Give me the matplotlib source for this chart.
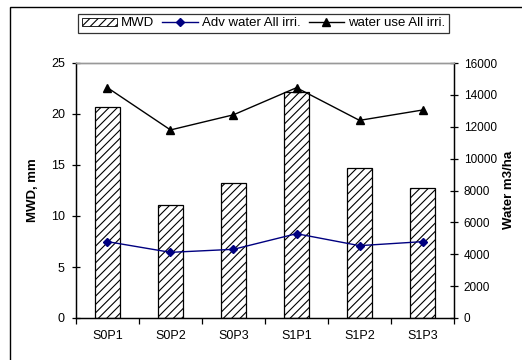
import matplotlib
matplotlib.use('Agg')
import matplotlib.pyplot as plt
import numpy as np
from matplotlib.patches import Patch, Rectangle
from matplotlib.lines import Line2D

plt.rcParams['font.family'] = ['Liberation Sans', 'DejaVu Sans']
plt.rcParams['hatch.linewidth'] = 0.8
plt.rcParams['hatch.color'] = '#444444'

# data
treatments = ['S0P1', 'S0P2', 'S0P3', 'S1P1', 'S1P2', 'S1P3']
mwd = [20.7, 11.1, 13.2, 22.2, 14.7, 12.7]
adv_water = [4790, 4120, 4310, 5290, 4540, 4790]
water_use = [14450, 11800, 12750, 14450, 12400, 13050]

fig = plt.figure(figsize=(5.22, 3.6), dpi=100)
ax = fig.add_axes([76 / 522, 1 - 318 / 360, (454 - 76) / 522, (318 - 63) / 360])
ax2 = ax.twinx()

x = np.arange(len(treatments))
ax.bar(x, mwd, width=0.4, color='white', edgecolor='black', hatch='////', linewidth=0.9, zorder=2)
ax2.plot(x, adv_water, color='#000080', marker='D', markersize=4, linewidth=1.0)
ax2.plot(x, water_use, color='black', marker='^', markersize=6, linewidth=1.0)

ax.set_xlim(-0.5, len(treatments) - 0.5)
ax.set_ylim(0, 25)
ax.set_yticks(range(0, 26, 5))
ax2.set_ylim(0, 16000)
ax2.set_yticks(range(0, 16001, 2000))

ax.set_xticks(x)
ax.set_xticklabels(treatments)
ax.set_xticks(np.arange(-0.5, len(treatments), 1.0), minor=True)
ax.tick_params(axis='x', which='major', length=0, pad=8.5, labelsize=9)
ax.tick_params(axis='x', which='minor', length=4, direction='out', width=0.9)
ax.tick_params(axis='y', length=6, direction='inout', pad=5, labelsize=9, width=0.9)
ax2.tick_params(axis='y', length=6, direction='inout', pad=4, labelsize=8.5, width=0.9)

for a in (ax, ax2):
    a.spines['top'].set_color('#999999')
    a.spines['top'].set_linewidth(1.0)
    for s in ('left', 'right', 'bottom'):
        a.spines[s].set_linewidth(0.9)

fig.text(33 / 522, 1 - 190 / 360, 'MWD, mm', rotation=90, ha='center', va='center',
         fontsize=9.5, fontweight='bold')
fig.text(509 / 522, 1 - 190 / 360, 'Water m3/ha', rotation=90, ha='center', va='center',
         fontsize=9.5, fontweight='bold')

handles = [
    Patch(facecolor='white', edgecolor='black', hatch='////', linewidth=0.6),
    Line2D([], [], color='#000080', marker='D', markersize=4, linewidth=1.0),
    Line2D([], [], color='black', marker='^', markersize=6, linewidth=1.0),
]
labels = ['MWD', 'Adv water All irri.', 'water use All irri.']
leg = fig.legend(handles, labels, loc='center', bbox_to_anchor=(263.5 / 522, 1 - 23.5 / 360),
                 ncol=3, fontsize=9.5, frameon=True, fancybox=False, borderpad=0.3,
                 handlelength=2.7, handletextpad=0.3, columnspacing=0.6, handleheight=0.6,
                 borderaxespad=0)
leg.get_frame().set_edgecolor('black')
leg.get_frame().set_linewidth(0.9)

# outer chart border, cut off at right and bottom like the reference
fig.patches.append(Rectangle((10 / 522, -0.1), 1.0, 1.1 - 7 / 360, transform=fig.transFigure,
                             fill=False, edgecolor='black', linewidth=1.0))

fig.savefig('out.png', dpi=100)
